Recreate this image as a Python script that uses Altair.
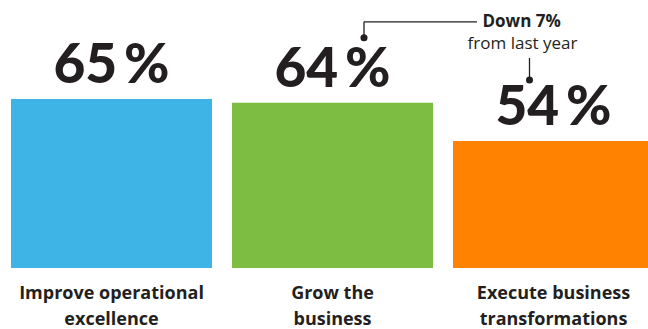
import altair as alt
import pandas as pd

categories = ["Improve operational\nexcellence", "Grow the\nbusiness", "Execute business\ntransformations"]
values = [65, 64, 54]
value_labels = ["65\u2009%", "64\u2009%", "54\u2009%"]
bar_colors = ["#3DB4E5", "#7DBD42", "#FF8200"]
note_bold = "Down 7%"
note_light = "from last year"

df = pd.DataFrame({"category": categories, "value": values, "label": value_labels})

TEXT = "#231F20"
FONT = "Lato"
LFONT = "Open Sans"
YMIN, YMAX = 20.74, 90.93

x = alt.X("category:N", sort=categories, axis=None,
          scale=alt.Scale(range=[0, 665], paddingInner=20 / 221, paddingOuter=11 / 221))
y = alt.Y("value:Q", axis=None, scale=alt.Scale(domain=[YMIN, YMAX], zero=False, nice=False))

base = alt.Chart(df).encode(x=x, y=y)

bars = base.mark_bar().encode(
    y2=alt.Y2(datum=YMIN),
    color=alt.Color("category:N", sort=categories, legend=None,
                    scale=alt.Scale(domain=categories, range=bar_colors))
)

big = base.mark_text(font=FONT, fontSize=55, fontWeight=900, baseline="alphabetic",
                     dy=-16, color=TEXT).encode(text="label:N")

cats = alt.Chart(df).mark_text(font=LFONT, fontSize=18, fontWeight="bold", baseline="alphabetic",
                               lineBreak="\n", lineHeight=26, color=TEXT).encode(
    x=x, y=alt.value(299), text="category:N")

grow = base.transform_filter(alt.datum.category == categories[1])
execu = base.transform_filter(alt.datum.category == categories[2])

# annotation attached to "Grow the business"
dot1 = grow.mark_point(filled=True, size=50, color=TEXT, opacity=1, xOffset=31.5, yOffset=-65)
vline1 = grow.mark_rule(color=TEXT, strokeWidth=1.3, xOffset=31.5, yOffset=-81, y2Offset=-65).encode(y2="value:Q")
hline1 = grow.mark_rule(color=TEXT, strokeWidth=1.3, xOffset=31.5, x2Offset=144.5,
                        yOffset=-81, y2Offset=-81).encode(x2="category:N", y2="value:Q")

# annotation attached to "Execute business transformations"
t_bold = execu.mark_text(font=LFONT, fontSize=17, fontWeight="bold", align="left",
                         baseline="alphabetic", dx=-71, dy=-114, color=TEXT).encode(text=alt.value(note_bold))
t_light = execu.mark_text(font=LFONT, fontSize=17, fontWeight="normal", align="center",
                          baseline="alphabetic", dx=-31, dy=-92, color=TEXT).encode(text=alt.value(note_light))
vline2 = execu.mark_rule(color=TEXT, strokeWidth=1.3, xOffset=-24, yOffset=-83, y2Offset=-61).encode(y2="value:Q")
dot2 = execu.mark_point(filled=True, size=50, color=TEXT, opacity=1, xOffset=-24, yOffset=-61)

chart = alt.layer(bars, big, cats, vline1, hline1, dot1, t_bold, t_light, vline2, dot2).properties(
    width=648, height=268,
    padding={"left": 0, "top": 0, "right": 0, "bottom": 61},
    autosize=alt.AutoSizeParams(type="none"),
    background="white",
).configure_view(stroke=None)

chart.save("out.html", embed_options={"renderer": "svg", "actions": False})
